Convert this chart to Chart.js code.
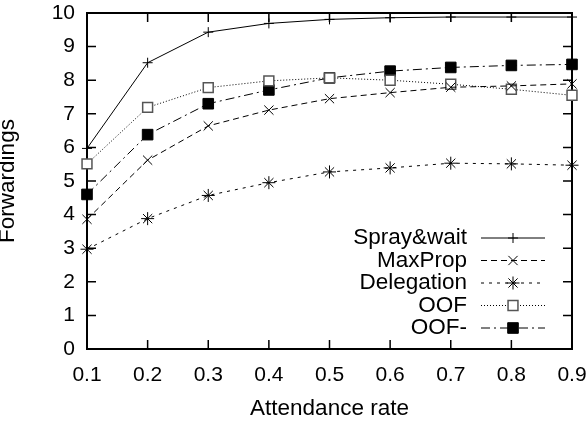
<!DOCTYPE html>
<html>
<head>
<meta charset="utf-8">
<script src="https://cdn.jsdelivr.net/npm/chart.js@4"></script>
<style>
  html, body { margin: 0; padding: 0; background: #fff; overflow: hidden; }
  #wrap { width: 587px; height: 422px; }
</style>
</head>
<body>
<div id="wrap"><canvas id="chart"></canvas></div>
<script>
// data
const rates = ['0.1', '0.2', '0.3', '0.4', '0.5', '0.6', '0.7', '0.8', '0.9'];
const sprayWait = [5.97, 8.52, 9.43, 9.69, 9.81, 9.86, 9.88, 9.88, 9.88];
const maxProp = [3.86, 5.62, 6.64, 7.11, 7.45, 7.63, 7.79, 7.83, 7.89];
const delegation = [2.97, 3.88, 4.57, 4.95, 5.27, 5.39, 5.53, 5.51, 5.47];
const oof = [5.51, 7.19, 7.78, 7.98, 8.07, 8.00, 7.88, 7.73, 7.55];
const oofMinus = [4.60, 6.38, 7.30, 7.71, 8.07, 8.27, 8.38, 8.44, 8.47];
const yTicks = [0, 1, 2, 3, 4, 5, 6, 7, 8, 9, 10];

Chart.defaults.font.family = '"Liberation Sans", Arial, sans-serif';
Chart.defaults.font.size = 21;
Chart.defaults.color = '#000';

// gnuplot style frame with inward ticks on all four sides
const frame = {
    id: 'frame',
    beforeDatasetsDraw(chart) {
        const { ctx, chartArea: a, scales } = chart;
        ctx.save();
        ctx.strokeStyle = '#000';
        ctx.lineWidth = 2;
        ctx.strokeRect(a.left, a.top, a.right - a.left, a.bottom - a.top);
        ctx.lineWidth = 1.5;
        ctx.beginPath();
        rates.forEach((r, i) => {
            const px = scales.x.getPixelForValue(i);
            ctx.moveTo(px, a.bottom); ctx.lineTo(px, a.bottom - 9);
            ctx.moveTo(px, a.top); ctx.lineTo(px, a.top + 9);
        });
        yTicks.forEach(v => {
            const py = scales.y.getPixelForValue(v);
            ctx.moveTo(a.left, py); ctx.lineTo(a.left + 9, py);
            ctx.moveTo(a.right, py); ctx.lineTo(a.right - 9, py);
        });
        ctx.stroke();
        ctx.restore();
    }
};

// legend inside the plot: label right aligned, then line sample with marker
const gnuLegend = {
    id: 'gnuLegend',
    afterDraw(chart) {
        const { ctx, chartArea: a } = chart;
        ctx.save();
        ctx.font = '22.5px "Liberation Sans", Arial, sans-serif';
        ctx.textAlign = 'right';
        ctx.textBaseline = 'middle';
        chart.data.datasets.forEach((ds, i) => {
            const yy = a.top + 225 + i * 22.5;
            const textX = a.right - 105;
            ctx.fillStyle = '#000';
            ctx.fillText(ds.label, textX, yy);
            ctx.strokeStyle = ds.borderColor;
            ctx.lineWidth = ds.borderWidth;
            ctx.setLineDash(ds.borderDash || []);
            ctx.beginPath();
            ctx.moveTo(textX + 14, yy);
            ctx.lineTo(textX + 78, yy);
            ctx.stroke();
            ctx.setLineDash([]);
            ctx.fillStyle = ds.pointBackgroundColor;
            ctx.strokeStyle = ds.pointBorderColor;
            ctx.lineWidth = ds.pointBorderWidth;
            Chart.helpers.drawPoint(ctx, {
                pointStyle: ds.pointStyle,
                radius: ds.pointRadius,
                rotation: 0,
                borderWidth: ds.pointBorderWidth
            }, textX + 46, yy);
        });
        ctx.restore();
    }
};

const ctx = document.getElementById('chart').getContext('2d');
const chart = new Chart(ctx, {
    type: 'line',
    data: {
        labels: rates,
        datasets: [{
            label: 'Spray&wait',
            data: sprayWait,
            borderColor: '#000',
            borderWidth: 1,
            pointStyle: 'cross',
            pointRadius: 5,
            pointBorderColor: '#000',
            pointBackgroundColor: '#000',
            pointBorderWidth: 1
        }, {
            label: 'MaxProp',
            data: maxProp,
            borderColor: '#000',
            borderWidth: 1,
            borderDash: [6, 4],
            pointStyle: 'crossRot',
            pointRadius: 6.5,
            pointBorderColor: '#000',
            pointBackgroundColor: '#000',
            pointBorderWidth: 1
        }, {
            label: 'Delegation',
            data: delegation,
            borderColor: '#000',
            borderWidth: 1,
            borderDash: [3, 5],
            pointStyle: 'star',
            pointRadius: 6.5,
            pointBorderColor: '#000',
            pointBackgroundColor: '#000',
            pointBorderWidth: 1
        }, {
            label: 'OOF',
            data: oof,
            borderColor: '#000',
            borderWidth: 1,
            borderDash: [1, 2],
            pointStyle: 'rect',
            pointRadius: 7,
            pointBorderColor: '#555',
            pointBackgroundColor: '#fff',
            pointBorderWidth: 1.5
        }, {
            label: 'OOF-',
            data: oofMinus,
            borderColor: '#000',
            borderWidth: 1,
            borderDash: [9, 4, 2, 4],
            pointStyle: 'rect',
            pointRadius: 7.5,
            pointBorderColor: '#000',
            pointBackgroundColor: '#000',
            pointBorderWidth: 1
        }].map(ds => Object.assign(ds, { tension: 0, fill: false, clip: false, pointHoverRadius: ds.pointRadius }))
    },
    options: {
        responsive: true,
        maintainAspectRatio: false,
        animation: false,
        layout: { padding: { top: 13, right: 15, left: 0, bottom: 0 } },
        plugins: {
            legend: { display: false },
            tooltip: { enabled: false }
        },
        scales: {
            x: {
                offset: false,
                grid: { display: false, drawTicks: false },
                border: { display: false },
                ticks: { padding: 14, maxRotation: 0, autoSkip: false },
                title: { display: true, text: 'Attendance rate', font: { size: 22.5 }, padding: { top: 0, bottom: 0 } },
                afterFit(scale) {
                    scale.height = 73;
                    scale.paddingLeft = 0;
                    scale.paddingRight = 0;
                }
            },
            y: {
                min: 0,
                max: 10,
                grid: { display: false, drawTicks: false },
                border: { display: false },
                ticks: { stepSize: 1, padding: 12 },
                title: { display: true, text: 'Forwardings', padding: 0, font: { size: 22.5, lineHeight: 0.7 } },
                afterFit(scale) {
                    scale.width = 87;
                    scale.paddingTop = 0;
                    scale.paddingBottom = 0;
                }
            }
        }
    },
    plugins: [frame, gnuLegend]
});
</script>
</body>
</html>
